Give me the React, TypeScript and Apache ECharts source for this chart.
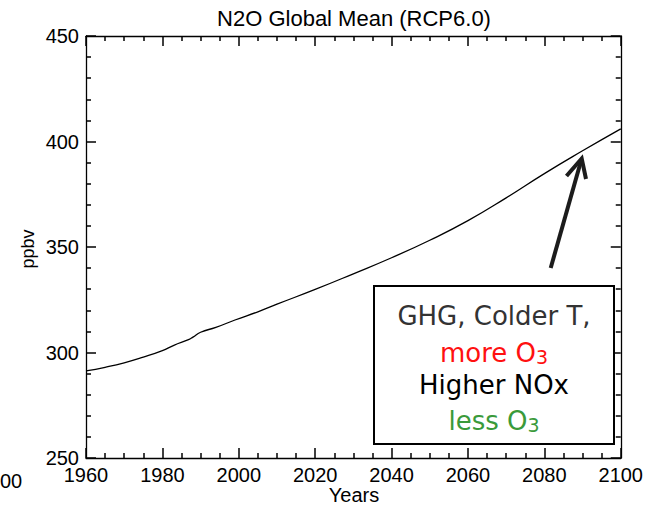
import React, { useEffect, useRef } from "react";
import * as echarts from "echarts";

const years = [1960, 1965, 1970, 1975, 1980, 1983, 1987, 1988, 1990, 1994, 1999, 2005, 2010, 2020, 2030, 2040, 2050, 2060, 2070, 2080, 2090, 2100];
const n2o = [291.3, 293.0, 295.1, 297.8, 300.9, 303.4, 306.2, 307.3, 309.6, 311.9, 315.4, 319.3, 322.9, 329.9, 337.3, 344.9, 353.2, 362.5, 373.3, 384.8, 395.6, 406.0];

const title = "N2O Global Mean (RCP6.0)";
const xName = "Years";
const yName = "ppbv";
const xTicks = { min: 1960, max: 2100, interval: 20 };
const yTicks = { min: 250, max: 450, interval: 50 };

const FONT = "Liberation Sans, Arial, Helvetica, sans-serif";
const BOX_FONT = "DejaVu Sans, Verdana, sans-serif";

export default function App() {
  const ref = useRef<HTMLDivElement>(null);
  useEffect(() => {
    document.body.style.margin = "0";
    const chart = echarts.init(ref.current!, null, { renderer: "svg" });
    const mk = (split: number, labels: boolean, pos: string, margin: number, lineHeight: number) => ({
      type: "value",
      position: pos,
      axisLine: { show: true, onZero: false, lineStyle: { color: "#000", width: 1.3 } },
      axisTick: { show: true, inside: true, length: 10, lineStyle: { color: "#000", width: 1.5 } },
      minorTick: { show: true, splitNumber: split, length: 5, lineStyle: { color: "#000", width: 1.5 } },
      splitLine: { show: false },
      minorSplitLine: { show: false },
      axisLabel: labels
        ? { show: true, color: "#000", fontFamily: FONT, fontSize: 20, lineHeight, margin, formatter: (v: number) => String(v) }
        : { show: false },
    });
    const sub = { fontSize: 19, lineHeight: 14, verticalAlign: "bottom" as const, fontFamily: BOX_FONT };
    chart.setOption({
      animation: false,
      backgroundColor: "#fff",
      grid: { left: 86, right: 24, top: 36, bottom: 52 },
      xAxis: [
        { ...mk(4, true, "bottom", 8, 18), ...xTicks },
        { ...mk(4, false, "top", 8, 18), ...xTicks },
      ],
      yAxis: [
        { ...mk(5, true, "left", 7, 14), ...yTicks },
        { ...mk(5, false, "right", 7, 14), ...yTicks },
      ],
      series: [
        {
          type: "line",
          xAxisIndex: 0,
          yAxisIndex: 0,
          data: years.map((y, i) => [y, n2o[i]]),
          smooth: 0.5,
          showSymbol: false,
          lineStyle: { color: "#000", width: 1.3 },
        },
      ],
      graphic: [
        {
          type: "text",
          x: 354,
          y: 18,
          style: { text: title, fontFamily: FONT, fontSize: 22, fill: "#000", align: "center", verticalAlign: "middle" },
        },
        {
          type: "text",
          x: 354,
          y: 495,
          style: { text: xName, fontFamily: FONT, fontSize: 20, fill: "#000", align: "center", verticalAlign: "middle" },
        },
        {
          type: "text",
          x: 28,
          y: 249,
          rotation: Math.PI / 2,
          style: { text: yName, fontFamily: FONT, fontSize: 18, fill: "#000", align: "center", verticalAlign: "middle" },
        },
        {
          type: "text",
          x: 0,
          y: 481,
          style: { text: "00", fontFamily: FONT, fontSize: 20, fill: "#000", align: "left", verticalAlign: "middle" },
        },
        {
          type: "rect",
          shape: { x: 374, y: 286, width: 240, height: 158 },
          style: { fill: "#fff", stroke: "#000", lineWidth: 2 },
          z: 10,
        },
        {
          type: "text",
          x: 494,
          y: 316,
          z: 11,
          style: { text: "GHG, Colder T,", fontFamily: BOX_FONT, fontSize: 26, fill: "#333", align: "center", verticalAlign: "middle" },
        },
        {
          type: "text",
          x: 494,
          y: 351,
          z: 11,
          style: {
            text: "{m|more O}{s|3}",
            align: "center",
            verticalAlign: "middle",
            rich: { m: { fontFamily: BOX_FONT, fontSize: 26, lineHeight: 30, fill: "#ff1010", verticalAlign: "bottom" }, s: { ...sub, fill: "#ff1010" } },
          },
        },
        {
          type: "text",
          x: 494,
          y: 385,
          z: 11,
          style: { text: "Higher NOx", fontFamily: BOX_FONT, fontSize: 26, fill: "#000", align: "center", verticalAlign: "middle" },
        },
        {
          type: "text",
          x: 494,
          y: 419,
          z: 11,
          style: {
            text: "{m|less O}{s|3}",
            align: "center",
            verticalAlign: "middle",
            rich: { m: { fontFamily: BOX_FONT, fontSize: 26, lineHeight: 30, fill: "#3a9a3a", verticalAlign: "bottom" }, s: { ...sub, fill: "#3a9a3a" } },
          },
        },
        {
          type: "line",
          shape: { x1: 550.7, y1: 268, x2: 581, y2: 161 },
          style: { stroke: "#1c1c1c", lineWidth: 4 },
          z: 11,
        },
        {
          type: "polyline",
          shape: { points: [[566.5, 176], [581.7, 158.5], [586, 179]] },
          style: { stroke: "#1c1c1c", lineWidth: 4, fill: "none", lineJoin: "miter" },
          z: 11,
        },
      ],
    });
    return () => chart.dispose();
  }, []);
  return <div ref={ref} style={{ position: "absolute", left: 0, top: 0, width: 646, height: 510 }} />;
}
